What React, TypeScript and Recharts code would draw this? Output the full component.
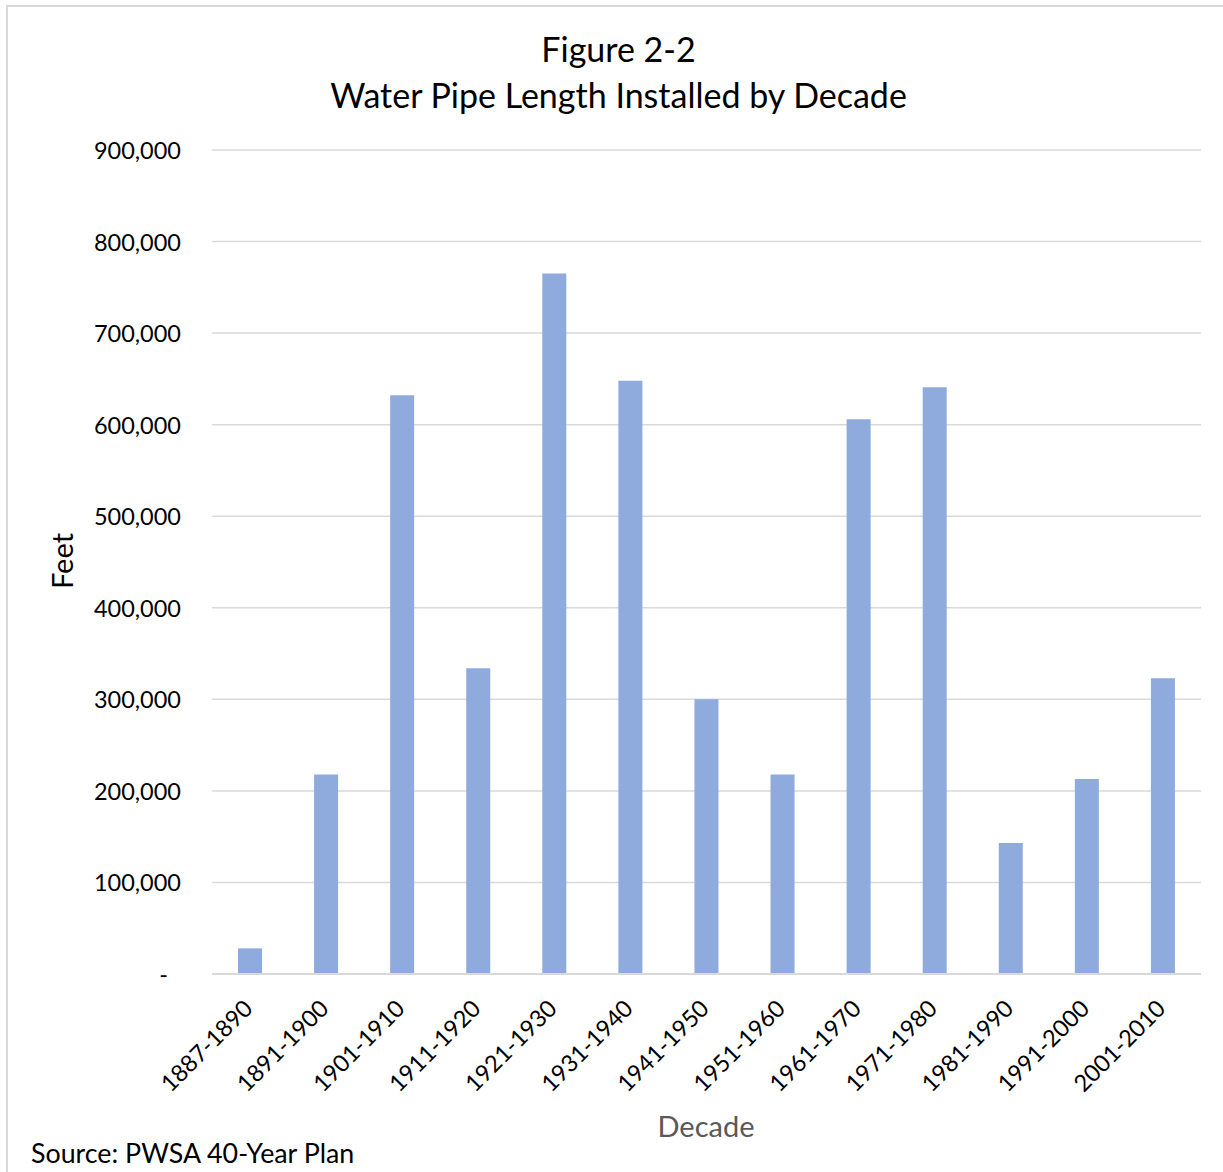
import { BarChart, Bar, XAxis, YAxis, CartesianGrid } from "recharts";

const decades = [
  "1887-1890",
  "1891-1900",
  "1901-1910",
  "1911-1920",
  "1921-1930",
  "1931-1940",
  "1941-1950",
  "1951-1960",
  "1961-1970",
  "1971-1980",
  "1981-1990",
  "1991-2000",
  "2001-2010",
];

const pipeFeet = [
  28000, 218000, 632000, 334000, 765000, 648000, 300000, 218000, 606000,
  641000, 143000, 213000, 323000,
];

const yTicks = [0, 100000, 200000, 300000, 400000, 500000, 600000, 700000, 800000, 900000];

const data = decades.map((decade, i) => ({ decade, feet: pipeFeet[i] }));

const FONT = "Lato, 'Open Sans', sans-serif";

const YTick = ({ x, y, payload }: any) => {
  const v = payload.value as number;
  const label = v === 0 ? "-" : v.toLocaleString("en-US");
  return (
    <text
      x={v === 0 ? x - 13 : x}
      y={y}
      textAnchor="end"
      dominantBaseline="central"
      fontSize={23.5}
      fontFamily={FONT}
      fill="#000"
    >
      {label}
    </text>
  );
};

const XTick = ({ x, y, payload }: any) => (
  <g transform={`translate(${x + 4},${y + 36})`}>
    <text
      transform="rotate(-45)"
      textAnchor="end"
      fontSize={23.5}
      fontFamily={FONT}
      fill="#000"
    >
      {payload.value}
    </text>
  </g>
);

export default function App() {
  return (
    <div
      style={{
        position: "absolute",
        left: 0,
        top: 0,
        width: 1223,
        height: 1172,
        overflow: "hidden",
        background: "#fff",
        fontFamily: FONT,
      }}
    >
      <div
        style={{
          position: "absolute",
          left: 6,
          top: 5,
          width: 1260,
          height: 1220,
          border: "2px solid #d9d9d9",
          boxSizing: "border-box",
        }}
      />
      <div
        style={{
          position: "absolute",
          left: 0,
          top: 26,
          width: 1237,
          textAlign: "center",
          fontSize: 34,
          lineHeight: "46px",
          color: "#000",
        }}
      >
        Figure 2-2
        <br />
        Water Pipe Length Installed by Decade
      </div>
      <div style={{ position: "absolute", left: 0, top: 0 }}>
        <BarChart
          width={1223}
          height={1172}
          data={data}
          margin={{ top: 150, right: 22, bottom: 48, left: 0 }}
        >
          <CartesianGrid vertical={false} stroke="#d9d9d9" strokeWidth={1.5} />
          <XAxis
            dataKey="decade"
            height={150}
            interval={0}
            tickLine={false}
            tickSize={0}
            tickMargin={0}
            axisLine={{ stroke: "#d9d9d9", strokeWidth: 2 }}
            tick={<XTick />}
          />
          <YAxis
            width={212}
            domain={[0, 900000]}
            ticks={yTicks}
            axisLine={false}
            tickLine={false}
            tickSize={0}
            tickMargin={31}
            tick={<YTick />}
          />
          <Bar dataKey="feet" fill="#8faadc" barSize={24} isAnimationActive={false} />
        </BarChart>
      </div>
      <div
        style={{
          position: "absolute",
          left: 61,
          top: 561,
          transform: "translate(-50%, -50%) rotate(-90deg)",
          fontSize: 29,
          color: "#000",
          whiteSpace: "nowrap",
        }}
      >
        Feet
      </div>
      <div
        style={{
          position: "absolute",
          left: 706,
          top: 1125,
          transform: "translate(-50%, -50%)",
          fontSize: 29,
          color: "#595959",
          whiteSpace: "nowrap",
        }}
      >
        Decade
      </div>
      <div
        style={{
          position: "absolute",
          left: 31,
          top: 1153,
          transform: "translateY(-50%)",
          fontSize: 26.8,
          color: "#000",
          whiteSpace: "nowrap",
        }}
      >
        Source: PWSA 40-Year Plan
      </div>
    </div>
  );
}
